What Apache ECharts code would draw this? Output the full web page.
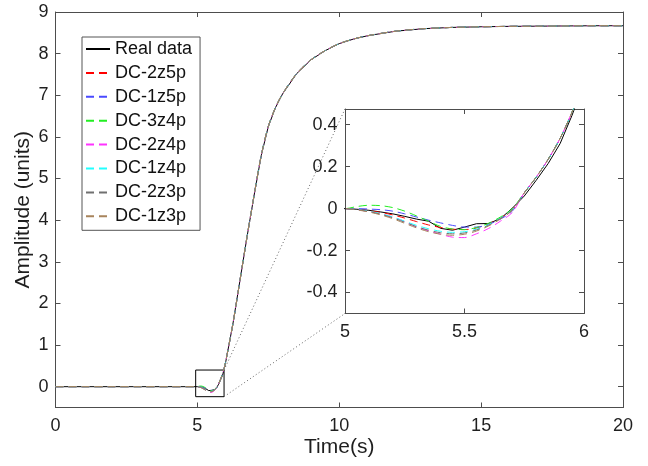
<!DOCTYPE html>
<html><head><meta charset="utf-8">
<script src="https://cdn.jsdelivr.net/npm/echarts@6/dist/echarts.min.js"></script>
<style>html,body{margin:0;padding:0;background:#fff}#c{width:648px;height:466px}</style>
</head><body><div id="c"></div>
<script>
// ---- data ----
const seriesNames = ['Real data','DC-2z5p','DC-1z5p','DC-3z4p','DC-2z4p','DC-1z4p','DC-2z3p','DC-1z3p'];
const seriesColors = ['#000000','#ff0000','#4a4aff','#22ee22','#ff33ff','#22ffff','#707070','#a8845c'];
const xTicksMain = [0,5,10,15,20];
const yTicksMain = [0,1,2,3,4,5,6,7,8,9];
const yTicksInset = [-0.4,-0.2,0,0.2,0.4];

const tPre  = [0,1,2,3,4,5];
const vPre  = [0,0,0,0,0,0];
const tDip  = [5.05,5.10,5.15,5.20,5.25,5.30,5.35,5.40,5.45,5.50,5.55,5.60,5.65,5.70];
const dipReal   = [-0.003,-0.008,-0.016,-0.025,-0.037,-0.050,-0.060,-0.094,-0.103,-0.088,-0.072,-0.071,-0.048,0.002];
const dip2z5p   = [-0.003,-0.010,-0.018,-0.030,-0.045,-0.062,-0.078,-0.090,-0.098,-0.100,-0.092,-0.073,-0.045,-0.005];
const dip1z5p   = [0.000,-0.002,-0.005,-0.012,-0.025,-0.040,-0.055,-0.068,-0.080,-0.088,-0.088,-0.075,-0.050,-0.012];
const dip3z4p   = [0.010,0.016,0.014,0.005,-0.012,-0.035,-0.060,-0.085,-0.097,-0.100,-0.090,-0.070,-0.040,0.000];
const dip2z4p   = [-0.005,-0.014,-0.026,-0.040,-0.062,-0.088,-0.106,-0.122,-0.136,-0.138,-0.120,-0.095,-0.060,-0.018];
const dip1z4p   = [-0.004,-0.012,-0.024,-0.040,-0.060,-0.080,-0.096,-0.108,-0.113,-0.110,-0.098,-0.077,-0.045,-0.005];
const dip2z3p   = [-0.005,-0.014,-0.027,-0.044,-0.065,-0.086,-0.103,-0.115,-0.120,-0.116,-0.102,-0.080,-0.047,-0.006];
const dip1z3p   = [-0.006,-0.016,-0.030,-0.048,-0.070,-0.092,-0.110,-0.122,-0.127,-0.122,-0.107,-0.083,-0.050,-0.008];
const tNear = [5.75,5.80,5.85,5.90,5.95,6.00];
const nearReal  = [0.060,0.135,0.215,0.310,0.445,0.60];
const nearModel = [0.075,0.150,0.235,0.335,0.460,0.61];
const tTail = [6.25,6.5,6.75,7.0,7.25,7.5,7.75,8.0,8.5,9.0,9.5,10,10.5,11,12,13,14,15,16,17,18,19,20];
const vTail = [1.5,2.55,3.6,4.6,5.55,6.25,6.7,7.03,7.52,7.85,8.07,8.24,8.35,8.43,8.54,8.6,8.63,8.645,8.655,8.66,8.665,8.67,8.67];
const zoomBoxX = [4.94, 5.94];
const zoomBoxY = [-0.24, 0.40];

// ---- build ----
const dips = [dipReal, dip2z5p, dip1z5p, dip3z4p, dip2z4p, dip1z4p, dip2z3p, dip1z3p];
const tAll = tPre.concat(tDip, tNear, tTail);
function buildData(i){
  const v = vPre.concat(dips[i], i===0 ? nearReal : nearModel, vTail);
  return tAll.map((t,k)=>[t, v[k]]);
}
const FONT = 'Liberation Sans, Arial, Helvetica, sans-serif';
const axisCol = '#4d4d4d';
const labelStyle = {fontFamily: FONT, fontSize: 18, color: '#1f1f1f'};
const nameStyle = {fontFamily: FONT, fontSize: 21, color: '#1f1f1f'};
const axLine = {show:true, onZero:false, lineStyle:{color:axisCol}};

function mirrorX(grid, min, max, interval){
  return {gridIndex: grid, type:'value', position:'top', min, max, interval,
    axisLine: axLine, axisTick:{inside:true, length:5, lineStyle:{color:axisCol}},
    axisLabel:{show:false}, splitLine:{show:false}};
}
function mirrorY(grid, min, max, ticks){
  return {gridIndex: grid, type:'value', position:'right', min, max,
    axisLine: axLine, axisTick:{inside:true, length:5, customValues: ticks, lineStyle:{color:axisCol}},
    axisLabel:{show:false, customValues: ticks}, splitLine:{show:false}};
}

const series = [];
seriesNames.forEach((name,i)=>{
  const data = buildData(i);
  const ls = {color: seriesColors[i], width: 1, type: i===0 ? 'solid' : [8,5]};
  const base = {name, type:'line', symbol:'none', showSymbol:false, clip:true, data,
    lineStyle: ls, itemStyle:{color: seriesColors[i]}, emphasis:{disabled:true}, animation:false,
    smooth: i===0 ? false : 0.3, z: 2 + i};
  const main = Object.assign({}, base, {xAxisIndex:0, yAxisIndex:0});
  if (i === 0) {
    main.markArea = {silent:true, itemStyle:{color:'rgba(0,0,0,0)', borderColor:'#000', borderWidth:1},
      data:[[{coord:[zoomBoxX[0], zoomBoxY[1]]},{coord:[zoomBoxX[1], zoomBoxY[0]]}]]};
  }
  series.push(main);
  series.push(Object.assign({}, base, {xAxisIndex:2, yAxisIndex:2}));
});

const chart = echarts.init(document.getElementById('c'), null, {renderer:'canvas'});
const insetYMin = -0.5, insetYMax = 0.475;
chart.setOption({
  backgroundColor:'#fff',
  animation:false,
  textStyle:{fontFamily: FONT},
  grid:[
    {left:55.5, top:12, width:567.5, height:395.5, show:false},
    {left:345, top:109, width:239, height:204.5, show:false}
  ],
  legend:{
    data: seriesNames, orient:'vertical', left:82, top:37, padding:[3,8,5,3],
    itemWidth:24, itemHeight:12, itemGap:5.9, borderColor:'#555', borderWidth:1, backgroundColor:'#fff',
    itemStyle:{opacity:0, borderWidth:0},
    textStyle:{fontFamily: FONT, fontSize:18, color:'#111'}, selectedMode:false, inactiveColor:'#ccc'
  },
  xAxis:[
    {gridIndex:0, type:'value', position:'bottom', min:0, max:20, interval:5,
     axisLine: axLine, axisTick:{inside:true, length:5, lineStyle:{color:axisCol}},
     axisLabel: Object.assign({margin:10}, labelStyle), splitLine:{show:false},
     name:'Time(s)', nameLocation:'middle', nameGap:29.5, nameMoveOverlap:false, nameTextStyle:nameStyle},
    mirrorX(0, 0, 20, 5),
    {gridIndex:1, type:'value', position:'bottom', min:5, max:6, interval:0.5,
     axisLine: axLine, axisTick:{inside:true, length:5, lineStyle:{color:axisCol}},
     axisLabel: Object.assign({margin:9.5}, labelStyle), splitLine:{show:false}},
    mirrorX(1, 5, 6, 0.5)
  ],
  yAxis:[
    {gridIndex:0, type:'value', position:'left', min:-0.5, max:9,
     axisLine: axLine, axisTick:{inside:true, length:5, customValues: yTicksMain, lineStyle:{color:axisCol}},
     axisLabel: Object.assign({margin:7, customValues: yTicksMain}, labelStyle), splitLine:{show:false},
     name:'Amplitude (units)', nameLocation:'middle', nameGap:21.5, nameRotate:90, nameMoveOverlap:false,
     nameTextStyle:nameStyle},
    mirrorY(0, -0.5, 9, yTicksMain),
    {gridIndex:1, type:'value', position:'left', min:insetYMin, max:insetYMax,
     axisLine: axLine, axisTick:{inside:true, length:5, customValues: yTicksInset, lineStyle:{color:axisCol}},
     axisLabel: Object.assign({margin:7.5, customValues: yTicksInset}, labelStyle), splitLine:{show:false}},
    mirrorY(1, insetYMin, insetYMax, yTicksInset)
  ],
  series
});

// connector lines from zoom box to inset corners, via library scales
const pTopR = chart.convertToPixel({xAxisIndex:0, yAxisIndex:0}, [zoomBoxX[1], zoomBoxY[1]]);
const pBotR = chart.convertToPixel({xAxisIndex:0, yAxisIndex:0}, [zoomBoxX[1], zoomBoxY[0]]);
const iTopL = chart.convertToPixel({xAxisIndex:2, yAxisIndex:2}, [5, insetYMax]);
const iBotL = chart.convertToPixel({xAxisIndex:2, yAxisIndex:2}, [5, insetYMin]);
const dotStyle = {stroke:'#666', lineWidth:1, lineDash:[1,2.5]};
chart.setOption({graphic:[
  {type:'line', silent:true, z:1, shape:{x1:pTopR[0], y1:pTopR[1], x2:iTopL[0], y2:iTopL[1]}, style:dotStyle},
  {type:'line', silent:true, z:1, shape:{x1:pBotR[0], y1:pBotR[1], x2:iBotL[0], y2:iBotL[1]}, style:dotStyle}
]});
</script>
</body></html>
